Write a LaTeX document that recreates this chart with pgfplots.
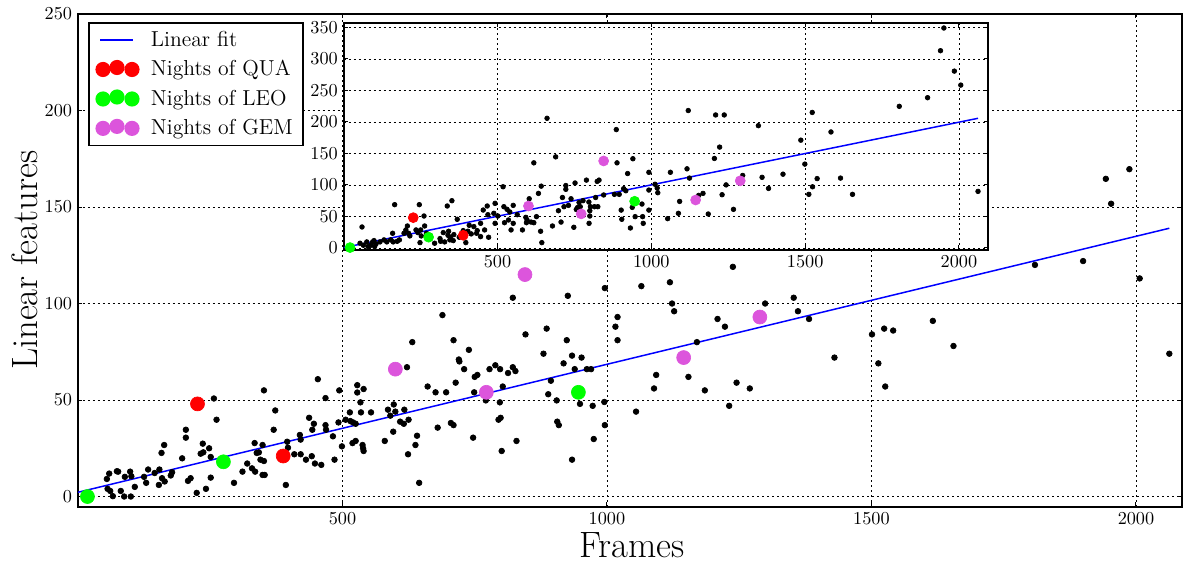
\documentclass[border=0pt]{standalone}
\usepackage{pgfplots}
\usepackage{pgfplotstable}
\pgfplotsset{compat=1.18}

\definecolor{qua}{RGB}{255,0,0}
\definecolor{leo}{RGB}{0,255,0}
\definecolor{gem}{RGB}{220,85,220}

% main panel: frames vs linear features
\pgfplotstableread{
x y
54.7 9.1
59.1 11.9
56 4.0
61 2.9
66 0.2
73.6 13.1
76 12.9
81 2.9
88.7 10.2
87.4 0
98.7 12.9
101 10.5
100 0
107.5 5
125 10.2
129 7.1
132.7 14
145 12.2
153 6
154 14
159 9.5
164 7.8
158 22.6
163 26.7
175.5 10.9
178 12.6
197 19.8
204 34.6
204 30.5
208 8.1
213 9.5
224.5 1.9
232 22.2
236 27.4
237 22.9
242 4.0
248 25
251 20.5
251 9.8
257 50.8
262 39.8
295 7.1
311 12.9
320 17.1
329 14.6
334 27.7
335 12.9
338 22.6
342 22.9
345 19.1
349 26.7
349 11.2
351.6 18.4
353 11.2
351.6 55
370 34.6
373 44.6
393 6
395.6 28.4
397 25.3
409 21.9
419.5 31.9
421 21.9
421 29.5
431 19.1
437 40.8
442 20.9
443 34.6
446 37.7
448 17.1
453.5 60.8
460 16.4
468 51
468 37
469 34.6
482 31.2
485 19.1
492.5 38.4
494 55
499 26
506 39.8
514 43.6
515 39.1
519 27.7
520 38.4
525 28.8
525 37.7
528 57.7
528 53.9
534 48.8
535 43.6
538 26.7
539 25
540 23.6
540 55.7
554 43.6
580 28.8
586 45
590.5 41.9
596 33.6
597 47.7
600 44
609 38.8
617 45
616 37.7
622 67
624 21.9
625 39.8
632 80
638 26.7
641 31.5
645 7.1
661 57
676 54
680 35.7
689 94
696 54
705 38.1
710 37
710 81
714 59
720 71
721 70
730 66
739 76
747 30.5
749 54
750 62
755 63
771 49.8
778 66
789 68
798 66
797.5 48.8
795 39.8
799 40.8
801 23.6
803 57
813 64
822 103
822 67
827 65
829 28.8
846 84
880 74
886 87
889 53
894 60
905 49.8
906 38.8
909 37
918 69
924 81
926 104
934 73
934 19.1
939 66
949 48
952 72
962 66
970 66
973 47
975 29.8
996 108
995 49
996 37
1016 88
1020 93
1020 81
1055 44
1065 109
1089 56
1093 63
1119 111
1123 100
1127 96
1154 62
1170 80
1185 55
1209 92
1223 88
1231 47
1238 119
1245 59
1270 56
1299 100
1353 103
1361 96
1382 92
1430 72
1501 84
1513 69
1524 87
1526 57
1541 86
1616 91
1655 78
1809 120
1900 122
1943 164.6
1953 151.7
1987.5 169.6
2007 113
2063 74
}\mainpts

\pgfplotstableread{
x y
226 48
388 21
}\mainqua

\pgfplotstableread{
x y
18 0
275 18
946 54
}\mainleo

\pgfplotstableread{
x y
600 66
772 54
845 115
1145 72
1289 93
}\maingem

% inset panel
\pgfplotstableread{
x y
53 7.4
59.5 33.2
64 4.2
75 9.5
79 2.1
88 4.2
94 9.5
98.5 11.6
100.6 2.1
105 6.3
118 9.5
131 12.7
140 9.5
152.6 12.7
159 23.2
161 9.5
165.6 68.6
174 10.5
181 12.7
196 23.2
202 28.5
207 34.8
211 23.2
215 19
235 28.5
241 24.3
250 28.5
245.7 68.6
252 19
248 8.4
261 50.6
263 34.8
269 23.2
280 20
295.5 7.4
313 14.8
315 10.5
323.6 24.3
328 9.5
336.6 66.5
339 20
341 26.4
347 16.9
351.7 74.9
345 12.7
358 21.1
369 45.4
356 11.6
375.5 16.9
388.5 27.4
397 8.4
403.7 26.4
408 35.9
414.5 22.2
423 33.8
432 23.2
434 27.4
445 39
445 17.9
453.5 60.1
458 28.5
466.5 66.5
468.6 52.7
471 16.9
488 54.9
492 39
492 70.7
501 50.6
518 97
520.6 65.4
522.7 40
531 61.2
535.7 44.3
540 57
544 28.5
551 67.5
551 39
564 52.7
581 28.5
592 48.5
594 40
596 44.3
603 78
609 41
618 40
618 135
626.6 49.6
633 86.5
640 26.4
642 98
644 8.4
661 205.7
678.6 34.8
689 144.5
698 59
706.5 41
711 80
716 65.4
722 99
722 93
730.5 67.5
739 78
748 32.7
752 103
756 61
760 64
765 72
769 65.4
778 75
789 107.6
797 72.8
800 59
800 50.6
802 65.4
797.6 39
815 65.4
819 80
826 65.4
824 105.5
830 107.6
845 84
880 85
886 187.8
888.5 135
895.6 85
902 60
904 45.4
910 94
917 90.7
923 118
932 31.6
940 141.5
938 64.3
947.4 49.6
969.6 69.6
971.6 49.6
973.6 39
992 60
992 91.8
992 120
1012 101
1019 95
1021 87.6
1053 46.4
1062 120
1088 54.9
1092 73.8
1116 125.5
1120 218
1124 110.8
1154 83.3
1168 86.5
1185 53.8
1205 142
1209 211
1222 160
1237 211
1230 84.4
1243 100
1267 61.2
1297 115
1348 194
1360 112
1381 94.4
1428 117
1486 171
1499 133
1512 85
1523 215
1524 97
1539 110
1584 184
1615 110.8
1654 85
1806 224.7
1898 238.4
1940 313
1951 349
1985 280.6
2006 258.4
2062 89.7
}\insetpts

\pgfplotstableread{
x y
226 48
388.5 20
}\insetqua

\pgfplotstableread{
x y
20.6 0.5
276 17
945.7 74
}\insetleo

\pgfplotstableread{
x y
600.6 66.5
772 54
845 138
1144 76
1289 106.5
}\insetgem

\pgfplotsset{
  mplstyle/.style={
    scale only axis,
    axis line style={line width=1.2pt},
    tick style={black, line width=0.6pt},
    major tick length=2.6pt,
    grid=major,
    grid style={black, line width=0.45pt, dash pattern=on 1.2pt off 1.8pt},
    tick label style={font=\fontsize{11}{13}\selectfont},
    /pgf/number format/1000 sep={},
  },
  threedots/.style={
    legend image code/.code={
      \fill[#1] (4.2pt,0) circle (4pt);
      \fill[#1] (12.6pt,1.2pt) circle (4pt);
      \fill[#1] (21.6pt,0) circle (4pt);
      \path[draw=none] (0,0) -- (31pt,0);
    },
  },
}

\begin{document}
\begin{tikzpicture}
\begin{axis}[
  mplstyle,
  width=663pt, height=295.8pt,
  xmin=0, xmax=2087, ymin=-5.2, ymax=250,
  xtick={500,1000,1500,2000},
  ytick={0,50,100,150,200,250},
  xlabel={Frames},
  ylabel={Linear features},
  xlabel style={font=\fontsize{22}{26}\selectfont, at={(axis description cs:0.502,-0.052)}, anchor=north, inner sep=0pt},
  ylabel style={font=\fontsize{22}{26}\selectfont, at={(axis description cs:-0.0362,0.5)}, anchor=base, inner sep=0pt},
  legend style={at={(axis description cs:0.009,0.984)}, anchor=north west,
    draw=black, line width=1.1pt, font=\fontsize{13}{15}\selectfont,
    row sep=3pt, inner xsep=4pt, inner ysep=3pt},
  legend cell align=left,
]
\addplot[only marks, mark=*, mark size=1.7pt, black, forget plot] table {\mainpts};
\addplot[blue, line width=0.9pt,
  legend image code/.code={\draw[blue, line width=0.9pt] (2.4pt,0) -- (22pt,0); \path[draw=none] (0,0) -- (31pt,0);}]
  coordinates {(0,2.2) (2063,139)};
\addlegendentry{Linear fit}
\addplot[only marks, mark=*, mark size=4.2pt, qua, threedots=qua] table {\mainqua};
\addlegendentry{Nights of QUA}
\addplot[only marks, mark=*, mark size=4.2pt, leo, threedots=leo] table {\mainleo};
\addlegendentry{Nights of LEO}
\addplot[only marks, mark=*, mark size=4.2pt, gem, threedots=gem] table {\maingem};
\addlegendentry{Nights of GEM}
\end{axis}

\begin{axis}[
  mplstyle,
  at={(159.6pt,290.4pt)}, anchor=north west,
  width=387pt, height=136.2pt,
  xmin=0, xmax=2095, ymin=-3, ymax=357,
  xtick={500,1000,1500,2000},
  ytick={0,50,100,150,200,250,300,350},
  axis background/.style={fill=white},
]
\addplot[only marks, mark=*, mark size=1.4pt, black] table {\insetpts};
\addplot[blue, line width=0.9pt] coordinates {(0,0.5) (2062,205.7)};
\addplot[only marks, mark=*, mark size=3pt, qua] table {\insetqua};
\addplot[only marks, mark=*, mark size=3pt, leo] table {\insetleo};
\addplot[only marks, mark=*, mark size=3pt, gem] table {\insetgem};
\end{axis}

\path (-46.8pt,-33.6pt) rectangle (663pt,304.2pt);
\end{tikzpicture}
\end{document}
